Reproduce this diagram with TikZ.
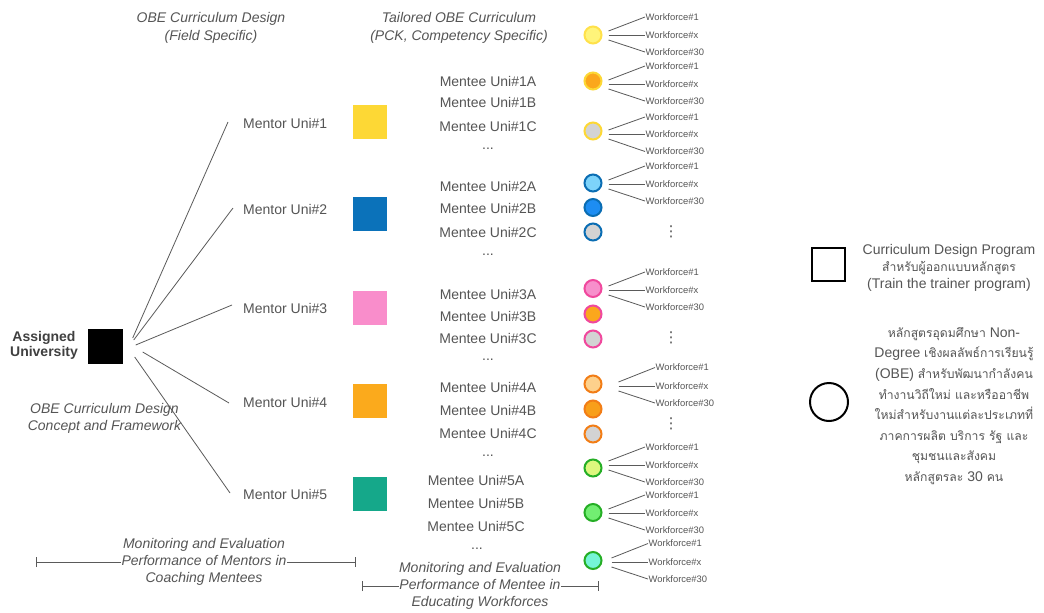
\documentclass[tikz,border=0pt]{standalone}
\usepackage{fontspec}
\setmainfont{Liberation Sans}
\newfontfamily\thaifont[Script=Thai,Scale=0.87]{Loma}
\newfontfamily\dejavu{DejaVu Sans}
\usetikzlibrary{arrows.meta}
\definecolor{txt}{HTML}{555555}
\definecolor{lgray}{HTML}{5A5A5A}
\definecolor{cyel}{HTML}{FDD835}
\definecolor{cblue}{HTML}{0B72BA}
\definecolor{cpink}{HTML}{F98DCB}
\definecolor{corg}{HTML}{FBAA1C}
\definecolor{cteal}{HTML}{15A88A}
\definecolor{gfill}{HTML}{D3D3D3}
\definecolor{yb}{HTML}{FDD835}
\definecolor{bb}{HTML}{0A6DB3}
\definecolor{pb}{HTML}{F0489D}
\definecolor{ob}{HTML}{F27D16}
\definecolor{gb}{HTML}{25AE25}
\definecolor{f0}{HTML}{FFF47A}
\definecolor{b0}{HTML}{FFE14A}
\definecolor{f1a}{HTML}{FBA71C}
\definecolor{f2a}{HTML}{7DD3FA}
\definecolor{f2b}{HTML}{1D8DF2}
\definecolor{f3a}{HTML}{F78FCB}
\definecolor{f4a}{HTML}{FDD18C}
\definecolor{f4b}{HTML}{F89F1A}
\definecolor{f5a}{HTML}{DDF77E}
\definecolor{f5b}{HTML}{72EE72}
\definecolor{f5c}{HTML}{75F5D6}
\newcommand\wfg[7]{%
  \node[wf] (#1a) at (#4,#5) {Workforce\#1};
  \node[wf] (#1b) at (#4,#6) {Workforce\#x};
  \node[wf] (#1c) at (#4,#7) {Workforce\#30};
  \draw[conn] (#2.east |- #1b.west) ++(#3,-4) -- (#1a.west);
  \draw[conn] (#2.east |- #1b.west) ++(#3,0) -- (#1b.west);
  \draw[conn] (#2.east |- #1b.west) ++(#3,5) -- (#1c.west);
}
\tikzset{
  lbl/.style={text=txt, inner sep=0pt, font=\fontsize{14}{17}\selectfont},
  itl/.style={text=txt, inner sep=0pt, align=center, font=\fontsize{14}{17.3}\selectfont\itshape},
  wf/.style={text=txt, anchor=west, inner sep=0.5pt, font=\fontsize{9.4}{10}\selectfont},
  conn/.style={draw=lgray, line width=0.8pt},
  msq/.style={minimum size=34pt, inner sep=0pt},
  cir/.style={circle, minimum size=17pt, inner sep=0pt, line width=2pt},
  bar/.style={draw=lgray, line width=0.9pt, {Bar[width=10pt]}-{Bar[width=10pt]}},
  vdt/.style={text=txt, inner sep=0pt, font=\dejavu\fontsize{15}{15}\selectfont},
}
\begin{document}
\begin{tikzpicture}[x=1pt,y=-1pt]
\useasboundingbox[fill=white] (0,0) rectangle (1044,613);

% top headings
\node[itl] (obe1) at (211,28) {OBE Curriculum Design\\(Field Specific)};
\node[itl] (obe2) at (459,28) {Tailored OBE Curriculum\\(PCK, Competency Specific)};

% hub
\node[text=black!75, inner sep=0pt, align=center, font=\fontsize{14}{15}\selectfont\bfseries] (autext) at (44,345.5) {Assigned\\University};
\node[fill=black, msq, minimum size=35pt] (hub) at (105,346.5) {};

% mentors
\node[lbl, anchor=west] (m1) at (243,123) {Mentor Uni\#1};
\node[lbl, anchor=west] (m2) at (243,209) {Mentor Uni\#2};
\node[lbl, anchor=west] (m3) at (243,308) {Mentor Uni\#3};
\node[lbl, anchor=west] (m4) at (243,402) {Mentor Uni\#4};
\node[lbl, anchor=west] (m5) at (243,494) {Mentor Uni\#5};

\draw[conn] ([shift={(10,-8.5)}]hub.east) -- ([shift={(-15,-1)}]m1.west);
\draw[conn] ([shift={(11,-6.5)}]hub.east) -- ([shift={(-10,-1)}]m2.west);
\draw[conn] ([shift={(13,-1.5)}]hub.east) -- ([shift={(-11,-3)}]m3.west);
\draw[conn] ([shift={(20,5.5)}]hub.east) -- ([shift={(-14,1)}]m4.west);
\draw[conn] ([shift={(12,10.5)}]hub.east) -- ([shift={(-13,-1)}]m5.west);

\node[itl] (concept) at (104.5,418.5) {OBE Curriculum Design\\Concept and Framework};

% mentor squares
\node[msq, fill=cyel] (s1) at (370,122) {};
\node[msq, fill=cblue] (s2) at (370,214) {};
\node[msq, fill=cpink] (s3) at (370,307.5) {};
\node[msq, fill=corg] (s4) at (370,401) {};
\node[msq, fill=cteal] (s5) at (370,494) {};

% mentees
\node[lbl] (me1a) at (488,81) {Mentee Uni\#1A};
\node[lbl] (me1b) at (488,102.5) {Mentee Uni\#1B};
\node[lbl] (me1c) at (488,126) {Mentee Uni\#1C};
\node[lbl] (me1d) at (488,149) {...};
\node[lbl] (me2a) at (488,186) {Mentee Uni\#2A};
\node[lbl] (me2b) at (488,208.5) {Mentee Uni\#2B};
\node[lbl] (me2c) at (488,232) {Mentee Uni\#2C};
\node[lbl] (me2d) at (488,255) {...};
\node[lbl] (me3a) at (488,294) {Mentee Uni\#3A};
\node[lbl] (me3b) at (488,316) {Mentee Uni\#3B};
\node[lbl] (me3c) at (488,338.5) {Mentee Uni\#3C};
\node[lbl] (me3d) at (488,360) {...};
\node[lbl] (me4a) at (488,387) {Mentee Uni\#4A};
\node[lbl] (me4b) at (488,410.5) {Mentee Uni\#4B};
\node[lbl] (me4c) at (488,433.5) {Mentee Uni\#4C};
\node[lbl] (me4d) at (488,456) {...};
\node[lbl] (me5a) at (476,480.5) {Mentee Uni\#5A};
\node[lbl] (me5b) at (476,503.5) {Mentee Uni\#5B};
\node[lbl] (me5c) at (476,526.5) {Mentee Uni\#5C};
\node[lbl] (me5d) at (477,549) {...};

% circles
\node[cir, fill=f0, draw=b0] (c0) at (593,35) {};
\node[cir, fill=f1a, draw=yb] (c1a) at (593,81) {};
\node[cir, fill=gfill, draw=yb] (c1c) at (593,131) {};
\node[cir, fill=f2a, draw=bb] (c2a) at (593,183) {};
\node[cir, fill=f2b, draw=bb] (c2b) at (593,207.5) {};
\node[cir, fill=gfill, draw=bb] (c2c) at (593,232) {};
\node[cir, fill=f3a, draw=pb] (c3a) at (593,288.5) {};
\node[cir, fill=f1a, draw=pb] (c3b) at (593,314) {};
\node[cir, fill=gfill, draw=pb] (c3c) at (593,339) {};
\node[cir, fill=f4a, draw=ob] (c4a) at (593,384) {};
\node[cir, fill=f4b, draw=ob] (c4b) at (593,409) {};
\node[cir, fill=gfill, draw=ob] (c4c) at (593,434) {};
\node[cir, fill=f5a, draw=gb] (c5a) at (593,468) {};
\node[cir, fill=f5b, draw=gb] (c5b) at (593,512.5) {};
\node[cir, fill=f5c, draw=gb] (c5c) at (593,560.5) {};

% workforce fans
\wfg{w0}{c0}{6}{645}{17}{35}{52}
\wfg{w1}{c1a}{6}{645}{66}{84}{101}
\wfg{w2}{c1c}{6}{645}{117}{134}{151.5}
\wfg{w3}{c2a}{6}{645}{166}{184}{201}
\wfg{w4}{c3a}{6}{645}{272}{290}{307}
\wfg{w5}{c4a}{16}{655}{367.5}{386}{403}
\wfg{w6}{c5a}{6}{645}{447}{465}{482}
\wfg{w7}{c5b}{6}{645}{495}{513}{530}
\wfg{w8}{c5c}{9}{648}{543.5}{562}{579}

\node[vdt] (vd1) at (671,232) {⋮};
\node[vdt] (vd2) at (671,338) {⋮};
\node[vdt] (vd3) at (671,424) {⋮};

% monitoring bars
\coordinate (bl1) at (36,562);
\coordinate (bl2) at (356,562);
\draw[bar] (bl1) -- (bl2);
\node[itl, fill=white, inner xsep=0.5pt] (mon1) at (204,562) {Monitoring and Evaluation\\Performance of Mentors in\\Coaching Mentees};

\coordinate (br1) at (362,586);
\coordinate (br2) at (599,586);
\draw[bar] (br1) -- (br2);
\node[itl, fill=white, inner xsep=0.5pt] (mon2) at (480,586) {Monitoring and Evaluation\\Performance of Mentee in\\Educating Workforces};

% legend
\node[draw=black, line width=2pt, minimum size=33pt, inner sep=0pt] (lsq) at (828.5,264) {};
\node[lbl, align=center] (ltxt1) at (949,267.5) {Curriculum Design Program\\{\thaifont สำหรับผู้ออกแบบหลักสูตร}\\(Train the trainer program)};
\node[circle, draw=black, line width=2pt, minimum size=38pt, inner sep=0pt] (lcir) at (829,402) {};
\node[lbl, align=center, font=\fontsize{14}{20.6}\selectfont] (ltxt2) at (954,406) {{\thaifont หลักสูตรอุดมศึกษา} Non-\\Degree {\thaifont เชิงผลลัพธ์การเรียนรู้}\\(OBE) {\thaifont สำหรับพัฒนากำลังคน}\\{\thaifont ทำงานวิถีใหม่ และหรืออาชีพ}\\{\thaifont ใหม่สำหรับงานแต่ละประเภทที่}\\{\thaifont ภาคการผลิต บริการ รัฐ และ}\\{\thaifont ชุมชนและสังคม}\\{\thaifont หลักสูตรละ} 30 {\thaifont คน}};
\end{tikzpicture}
\end{document}
